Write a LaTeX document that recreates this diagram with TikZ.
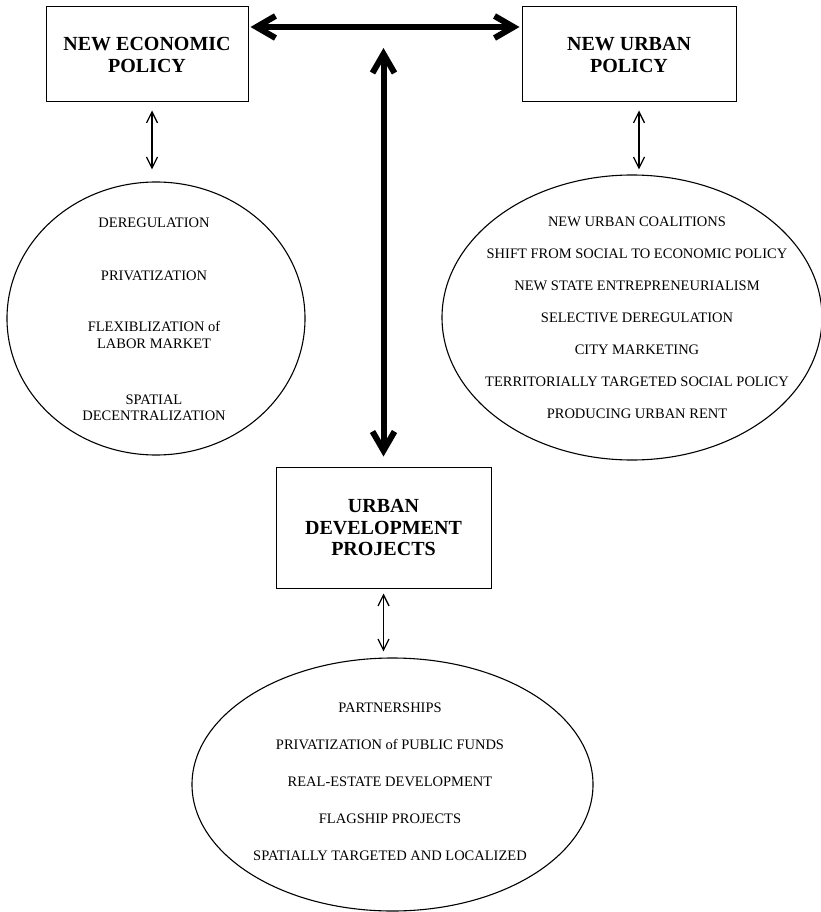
\documentclass[tikz,border=0pt]{standalone}
\usepackage{fontspec}
\setmainfont{Liberation Serif}
\usetikzlibrary{arrows.meta,shapes.geometric}

\begin{document}
\begin{tikzpicture}[x=1pt, y=1pt,
    policy/.style = {draw, line width=1pt, align=center, inner sep=0pt, font=\fontsize{20}{22}\selectfont\bfseries},
    field/.style = {draw, ellipse, line width=1.1pt, inner sep=0pt},
    items/.style = {align=center, inner sep=0pt, font=\fontsize{14.5}{16.5}\selectfont},
    link/.style = {{Straight Barb[length=11pt,width=11pt]}-{Straight Barb[length=11pt,width=11pt]}, line width=1.3pt},
    bigLink/.style = {{Straight Barb[length=19pt,width=22pt]}-{Straight Barb[length=19pt,width=22pt]}, line width=6pt, line cap=round, line join=round}]
    \useasboundingbox (0,0) rectangle (820,-912);
    \node[policy, minimum width=202pt, minimum height=95pt] (nep) at (147,-54.5) {NEW ECONOMIC\\POLICY};
    \node[policy, minimum width=214pt, minimum height=95pt] (nup) at (629,-54.5) {NEW URBAN\\POLICY};
    \node[policy, minimum width=215pt, minimum height=121pt, font=\fontsize{20}{21.5}\selectfont\bfseries] (udp) at (383.5,-527.5) {URBAN\\DEVELOPMENT\\PROJECTS};
    \node[field, minimum width=298pt, minimum height=273pt] (eco) at (156,-318.5) {};
    \node[field, minimum width=380pt, minimum height=285pt] (urb) at (632,-317.5) {};
    \node[field, minimum width=401pt, minimum height=253pt] (dev) at (392.5,-784.5) {};
    \node[items] (ecoText) at ([xshift=-2pt,yshift=-1pt]eco.center) {DEREGULATION\\[36.5pt]PRIVATIZATION\\[34.5pt]FLEXIBLIZATION of\\LABOR MARKET\\[39.5pt]SPATIAL\\DECENTRALIZATION};
    \node[items, font=\fontsize{14.5}{32}\selectfont] (urbText) at ([xshift=5pt]urb.center) {NEW URBAN COALITIONS\\SHIFT FROM SOCIAL TO ECONOMIC POLICY\\NEW STATE ENTREPRENEURIALISM\\SELECTIVE DEREGULATION\\CITY MARKETING\\TERRITORIALLY TARGETED SOCIAL POLICY\\PRODUCING URBAN RENT};
    \node[items, font=\fontsize{14.5}{37}\selectfont] (devText) at ([xshift=-2.5pt,yshift=2.5pt]dev.center) {PARTNERSHIPS\\PRIVATIZATION of PUBLIC FUNDS\\REAL-ESTATE DEVELOPMENT\\FLAGSHIP PROJECTS\\SPATIALLY TARGETED AND LOCALIZED};
    \coordinate (hub) at (383.5,-48);
    \draw[bigLink, shorten <=2pt, shorten >=2pt] ([yshift=27.5pt]nep.east) -- ([yshift=27.5pt]nup.west);
    \draw[bigLink, shorten >=10pt] (hub) -- (udp.north);
    \draw[link, shorten <=8pt, shorten >=12pt] ([xshift=5pt]nep.south) -- ([xshift=5pt]nep.south |- eco.north);
    \draw[link, shorten <=8pt, shorten >=5pt] ([xshift=10pt]nup.south) -- ([xshift=10pt]nup.south |- urb.north);
    \draw[link, shorten <=5pt, shorten >=6pt] (udp.south) -- (udp.south |- dev.north);
\end{tikzpicture}
\end{document}
